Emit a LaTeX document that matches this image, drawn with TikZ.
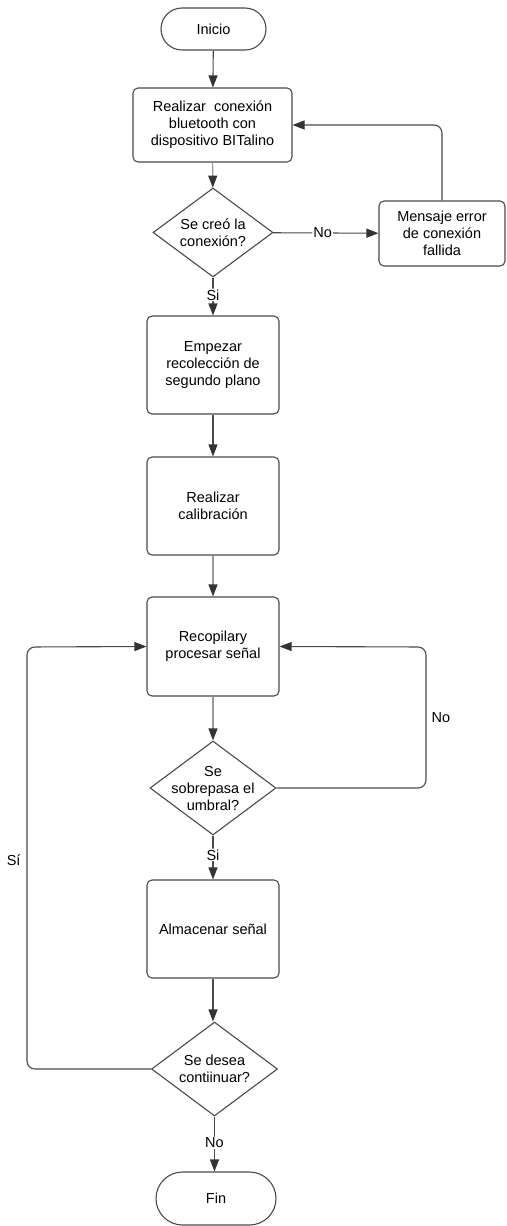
\documentclass[tikz,border=0pt]{standalone}
\usepackage{fontspec}
\setmainfont{Liberation Sans}
\usetikzlibrary{shapes.geometric,shapes.misc,arrows.meta}
\definecolor{ln}{HTML}{4A4A4A}
\definecolor{lnlight}{HTML}{9A9A9A}
\definecolor{tip}{HTML}{333333}
\begin{document}
\begin{tikzpicture}[x=1pt,y=-1pt,
  font=\fontsize{14.5}{17}\selectfont,
  every node/.style={text=black},
  proc/.style={draw=ln, line width=1.1pt, rectangle, rounded corners=5pt, inner sep=0pt, align=center},
  term/.style={draw=ln, line width=1.1pt, rounded rectangle, inner sep=0pt, align=center},
  dia/.style={draw=ln, line width=1.1pt, diamond, inner sep=0pt},
  txt/.style={align=center, inner sep=0pt},
  lbl/.style={fill=white, inner sep=1pt},
  conn/.style={draw=ln, line width=1.1pt, -{Triangle[length=12pt,width=9pt,color=tip]}, rounded corners=8pt},
  connl/.style={conn, draw=lnlight}
]
\useasboundingbox (0,0) rectangle (506,1226);

\node[term, minimum width=105pt, minimum height=42pt] (inicio) at (213.5,29) {Inicio};
\node[proc, minimum width=159pt, minimum height=74pt] (b1) at (212.5,125) {Realizar \ conexión\\bluetooth con\\dispositivo BITalino};
\node[dia, minimum width=120pt, minimum height=89pt] (d1) at (213,232.5) {};
\node[txt] (d1t) at (d1.center) {Se creó la\\conexión?};
\node[proc, minimum width=126pt, minimum height=65pt] (err) at (442,233.5) {Mensaje error\\de conexión\\fallida};
\node[proc, minimum width=132pt, minimum height=98pt] (b2) at (213,365) {Empezar\\recolección de\\segundo plano};
\node[proc, minimum width=132pt, minimum height=98pt] (b3) at (213,506) {Realizar\\calibración};
\node[proc, minimum width=132pt, minimum height=99pt] (b4) at (213,646.5) {Recopilary\\procesar señal};
\node[dia, minimum width=126pt, minimum height=94pt] (d2) at (213,788) {};
\node[txt] (d2t) at (d2.center) {Se\\sobrepasa el\\umbral?};
\node[proc, minimum width=132pt, minimum height=98pt] (b5) at (213,929) {Almacenar señal};
\node[dia, minimum width=126pt, minimum height=94pt] (d3) at (214.5,1069) {};
\node[txt] (d3t) at (d3.center) {Se desea\\contiinuar?};
\node[term, minimum width=120pt, minimum height=53pt] (fin) at (216,1198.5) {Fin};

\coordinate (c1) at (442,125);
\coordinate (c2) at (426,647);
\coordinate (c3) at (426,788);
\coordinate (c4) at (27,1069);
\coordinate (c5) at (27,647);

\draw[conn] (inicio) -- (b1);
\draw[connl] (b1) -- (d1);
\draw[conn] (d1) -- node[lbl, pos=0.47] (no1) {No} (err);
\draw[conn] (err.north) -- (c1) -- (b1.east);
\draw[conn] (d1) -- node[lbl, pos=0.46] (si1) {Si} (b2);
\draw[conn] (b2) -- (b3);
\draw[connl] (b3) -- (b4);
\draw[connl] (b4) -- (d2);
\draw[conn] (d2.east) -- (c3) -- node[lbl, right, pos=0.5, xshift=4pt, fill=none] (no2) {No} (c2) -- (b4.east);
\draw[conn] (d2) -- node[lbl, pos=0.44] (si2) {Si} (b5);
\draw[conn] (b5.south) -- (b5.south |- d3.north);
\draw[conn] (d3.west) -- (c4) -- node[lbl, left, pos=0.495, xshift=-5pt, fill=none] (si3) {Sí} (c5) -- (b4.west);
\draw[conn] (d3.south) -- node[lbl, pos=0.48] (no3) {No} (d3.south |- fin.north);
\end{tikzpicture}
\end{document}
